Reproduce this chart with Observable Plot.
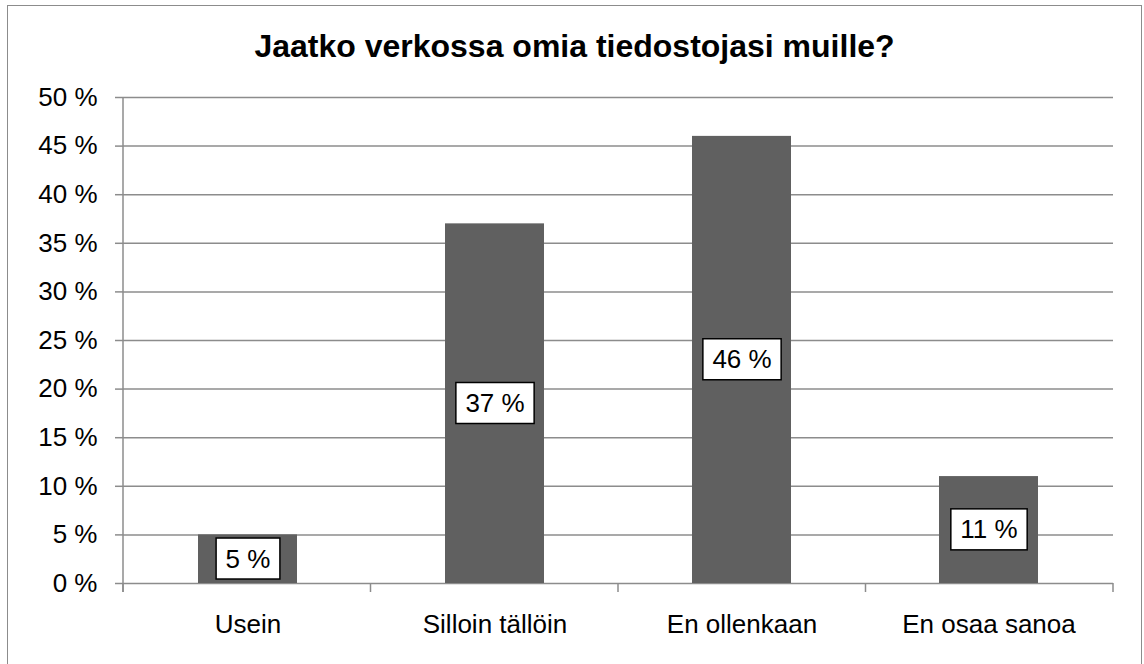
<!DOCTYPE html>
<html>
<head>
<meta charset="utf-8">
<script src="https://cdn.jsdelivr.net/npm/d3@7"></script>
<script src="https://cdn.jsdelivr.net/npm/@observablehq/plot@0.6"></script>
<style>
  body { margin: 0; background: #fff; }
  #wrap { position: relative; width: 1144px; height: 664px; overflow: hidden; font-family: "Liberation Sans", Arial, sans-serif; }
  #frame { position: absolute; left: 7px; top: 5px; width: 1135px; height: 720px; border: 1.5px solid #8c8c8c; box-sizing: border-box; }
  #title { position: absolute; left: 8px; width: 1133px; top: 31px; line-height: 31px; text-align: center; font-weight: bold; font-size: 32px; color: #000; }
  #chart { position: absolute; left: 0; top: 0; }
</style>
</head>
<body>
<div id="wrap">
  <div id="frame"></div>
  <div id="chart"></div>
  <div id="title">Jaatko verkossa omia tiedostojasi muille?</div>
</div>
<script>
const categories = ["Usein", "Silloin tällöin", "En ollenkaan", "En osaa sanoa"];
const values = [5, 37, 46, 11];
const yTicks = [0, 5, 10, 15, 20, 25, 30, 35, 40, 45, 50];

const data = categories.map((c, i) => ({category: c, value: values[i]}));
const gray = "#8c8c8c";

const axisLines = (index, scales, vals, dims) => {
  const g = d3.create("svg:g").attr("stroke", gray).attr("stroke-width", 1.5);
  const x0 = dims.marginLeft, x1 = dims.width - dims.marginRight;
  const yTop = dims.marginTop, yBot = dims.height - dims.marginBottom;
  const n = categories.length;
  g.append("line").attr("x1", x0).attr("x2", x0).attr("y1", yTop).attr("y2", yBot + 9);
  for (let i = 0; i <= n; i++) {
    const x = x0 + (x1 - x0) * i / n;
    g.append("line").attr("x1", x).attr("x2", x).attr("y1", yBot).attr("y2", yBot + 9);
  }
  return g.node();
};

const plot = Plot.plot({
  width: 1144,
  height: 664,
  marginTop: 97,
  marginBottom: 81,
  marginLeft: 123,
  marginRight: 31,
  style: {fontFamily: '"Liberation Sans", Arial, sans-serif', fontSize: "26px", color: "#000", background: "transparent"},
  x: {domain: categories, paddingInner: 0.6, paddingOuter: 0.3, label: null},
  y: {domain: [0, 50], label: null},
  marks: [
    Plot.gridY(yTicks, {stroke: gray, strokeOpacity: 1, strokeWidth: 1.5}),
    Plot.axisY(yTicks, {tickSize: 8, tickPadding: 18, tickFormat: d => d + " %", stroke: gray, strokeWidth: 1.5, strokeOpacity: 1, fill: "#000", label: null}),
    Plot.barY(data, {x: "category", y: "value", fill: "#606060"}),
    axisLines,
    Plot.axisX({tickSize: 0, tickPadding: 31, label: null, fill: "#000"}),
    Plot.text(data, {x: "category", y: d => d.value / 2, text: d => d.value + " %", fill: "#000"})
  ]
});

document.getElementById("chart").append(plot);

const labelTexts = new Set(data.map(d => d.value + " %"));
const textGroups = Array.from(plot.querySelectorAll('g[aria-label="text"]'));
textGroups.forEach(g => {
  g.querySelectorAll("text").forEach(t => {
    if (!labelTexts.has(t.textContent)) return;
    const b = t.getBBox();
    const cy = b.y + b.height / 2;
    const r = document.createElementNS("http://www.w3.org/2000/svg", "rect");
    r.setAttribute("x", b.x - 9.5);
    r.setAttribute("width", b.width + 19);
    r.setAttribute("y", cy - 20.5);
    r.setAttribute("height", 41);
    r.setAttribute("fill", "#fff");
    r.setAttribute("stroke", "#000");
    r.setAttribute("stroke-width", 1.5);
    const tr = t.getAttribute("transform");
    if (tr) r.setAttribute("transform", tr);
    t.parentNode.insertBefore(r, t);
  });
});
</script>
</body>
</html>
